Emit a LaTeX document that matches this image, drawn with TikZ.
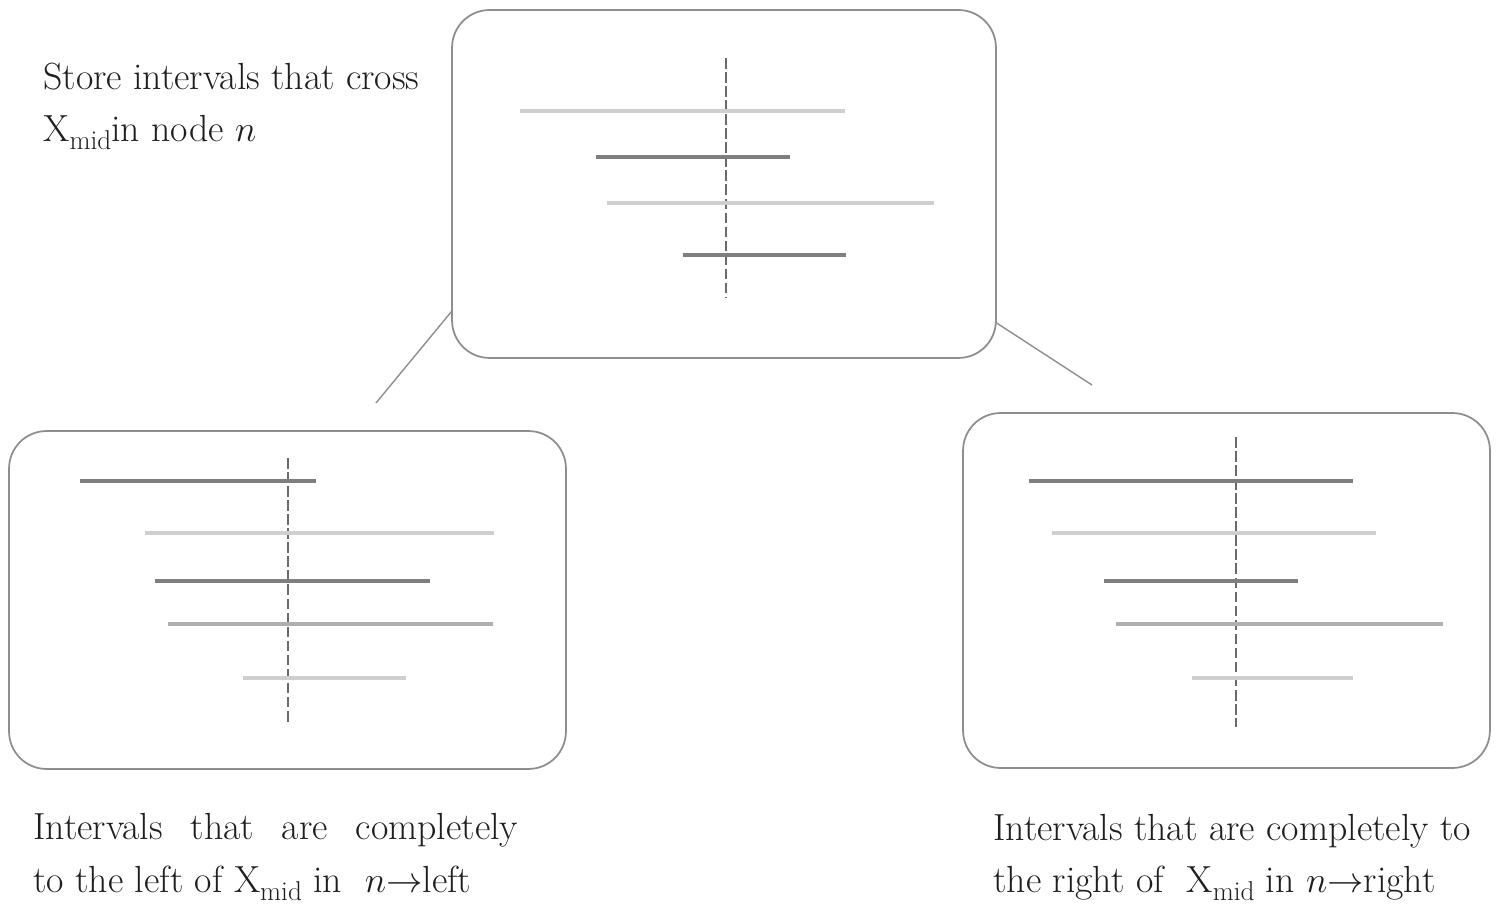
\documentclass[tikz,border=0pt]{standalone}
\usepackage{amsmath}
\usetikzlibrary{positioning}
\definecolor{frame}{HTML}{8E8E8E}
\definecolor{lightbar}{HTML}{CFCFCF}
\definecolor{midbar}{HTML}{AFAFAF}
\definecolor{darkbar}{HTML}{7E7E7E}
\definecolor{midline}{HTML}{6A6A6A}
\definecolor{ink}{HTML}{1E1E1E}
\newcommand{\Xmid}{X\raisebox{-0.45ex}{\fontsize{15.5}{15.5}\selectfont mid}}
\begin{document}
\begin{tikzpicture}[x=0.02cm,y=-0.02cm,
box/.style={draw=frame,line width=1pt,rounded corners=0.75cm,inner sep=0pt,
  outer sep=0pt},
bar/.style={line width=1.9pt},
xline/.style={draw=midline,line width=0.7pt,dash pattern=on 6pt off 2pt},
link/.style={draw=frame,line width=0.8pt},
note/.style={inner sep=0pt,text=ink,font=\fontsize{21.5}{30}\selectfont}]
\useasboundingbox (0,0) rectangle (1499,911);
\node[box,minimum width=10.88cm,minimum height=6.96cm] (top) at (724,184) {};
\node[box,minimum width=11.14cm,minimum height=6.76cm] (left) at (287.5,600) {};
\node[box,minimum width=10.54cm,minimum height=7.1cm] (right) at (1226.5,590.5) {};
\coordinate (lfoot) at (376,403);
\coordinate (rfoot) at (1092,385);
\draw[link] (top.205)--(lfoot);\draw[link] (top.333)--(rfoot);
% intervals in node n
\draw[xline] (726,58)--(726,298);
\foreach \y/\a/\b/\c in {111/520/845/lightbar,157/596/790/darkbar,
  203/607/934/lightbar,255/683/846/darkbar}
  \draw[bar,\c] (\a,\y)--(\b,\y);
% intervals in n->left
\draw[xline] (288,458)--(288,725);
\foreach \y/\a/\b/\c in {481/80/316/darkbar,533/145/494/lightbar,
  581/155/430/darkbar,624/168/493/midbar,678/243/406/lightbar}
  \draw[bar,\c] (\a,\y)--(\b,\y);
% intervals in n->right
\draw[xline] (1236,437)--(1236,727);
\foreach \y/\a/\b/\c in {481/1029/1353/darkbar,533/1052/1376/lightbar,
  581/1104/1298/darkbar,624/1116/1443/midbar,678/1192/1353/lightbar}
  \draw[bar,\c] (\a,\y)--(\b,\y);
\node[note,align=left,anchor=base west] (crossnote) at (43,142)
  {Store intervals that cross\\\Xmid in node $n$};
\node[note,text width=9.7cm,align=justify,anchor=base west] (leftnote) at (33,840)
  {Intervals that are completely\linebreak to the left of \Xmid{} in~ $n{\rightarrow}$left};
\node[note,align=left,anchor=base west] (rightnote) at (993,893)
  {Intervals that are completely to\\the right of~ \Xmid{} in $n{\rightarrow}$right};
\end{tikzpicture}
\end{document}
